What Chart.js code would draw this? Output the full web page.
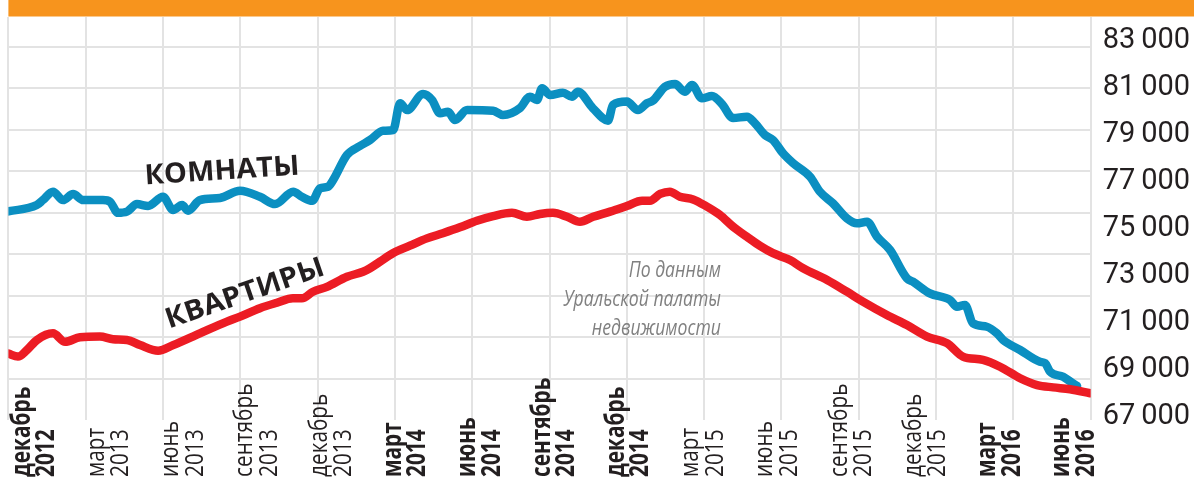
<!DOCTYPE html>
<html lang="ru">
<head>
<meta charset="utf-8">
<title>Комнаты и квартиры</title>
<script src="https://cdn.jsdelivr.net/npm/chart.js@4.4.1/dist/chart.umd.min.js"></script>
<style>
  html, body { margin: 0; padding: 0; background: #fff; }
  #wrap { position: relative; width: 1194px; height: 484px; }
</style>
</head>
<body>
<div id="wrap"><canvas id="priceChart"></canvas></div>
<script>
// Месяцы от декабря 2012 (0) до июня 2016 (42), цены в рублях за м²
const roomsMonths = [0, 1.10, 1.34, 1.73, 2.12, 2.51, 2.90, 3.67, 3.94, 4.25, 4.60, 4.99, 5.42, 6.00, 6.39, 6.74, 6.97, 7.43, 8.21, 8.99,
  9.76, 10.35, 11.05, 11.39, 11.79, 12.09, 12.40, 12.60, 13.14, 13.64, 14.04, 14.54, 14.93, 15.20, 15.47, 16.09, 16.44, 16.75, 17.06, 17.33,
  17.80, 18.81, 19.19, 19.85, 20.24, 20.51, 20.71, 21.02, 21.52, 21.87, 22.10, 22.68, 23.27, 23.46, 24.00, 24.43, 24.78, 25.01, 25.48, 25.87,
  26.25, 26.53, 26.91, 27.30, 27.69, 28.12, 28.66, 28.97, 29.36, 29.67, 30.06, 30.45, 31.11, 31.49, 32.00, 32.54, 32.93, 33.32, 33.71, 34.21,
  34.87, 35.10, 35.76, 36.54, 36.81, 37.12, 37.43, 37.97, 38.36, 38.60, 39.26, 40.03, 40.23, 40.42, 40.93, 41.31, 41.47];
const roomsPrices = [75750, 76020, 76230, 76590, 76230, 76490, 76230, 76230, 76160, 75690, 75740, 76060, 75980, 76370, 75810, 76020, 75780, 76230, 76320, 76630,
  76370, 76060, 76590, 76370, 76200, 76730, 76800, 77080, 78150, 78530, 78790, 79180, 79210, 80350, 80060, 80740, 80490, 79920, 79990, 79640,
  80060, 80030, 79850, 80140, 80630, 80490, 80990, 80700, 80800, 80630, 80840, 80140, 79610, 80280, 80420, 80060, 80350, 80460, 81050, 81170,
  80840, 81130, 80560, 80660, 80320, 79720, 79780, 79500, 79000, 78790, 78220, 77800, 77220, 76590, 76090, 75450, 75240, 75310, 74670, 74110,
  72900, 72760, 72260, 71980, 71690, 71770, 70990, 70840, 70560, 70280, 69850, 69350, 69290, 68930, 68710, 68430, 68320];

const flatsMonths = [0, 0.37, 0.72, 1.11, 1.73, 2.20, 2.78, 3.55, 4.06, 4.60, 5.11, 5.81, 6.39, 7.43, 8.48, 8.99, 9.76, 10.42, 11.04, 11.39,
  11.82, 12.36, 13.14, 13.76, 14.03, 14.42, 14.92, 15.58, 16.24, 16.86, 17.52, 18.18, 18.81, 19.54, 20.12, 20.63, 21.13, 21.68, 22.18, 22.69,
  23.35, 24.00, 24.59, 24.90, 25.29, 25.67, 26.06, 26.57, 27.11, 27.61, 28.12, 28.66, 29.17, 29.67, 30.33, 30.84, 31.77, 32.54, 33.16, 34.09,
  34.87, 35.65, 36.42, 37.04, 37.82, 38.48, 39.26, 39.92, 40.54, 41.20, 41.98];
const flatsPrices = [69700, 69570, 69850, 70280, 70560, 70200, 70390, 70420, 70310, 70280, 70060, 69820, 70060, 70560, 71060, 71270, 71630, 71860, 72050, 72050,
  72330, 72540, 72970, 73180, 73330, 73610, 73970, 74290, 74600, 74820, 75070, 75350, 75550, 75690, 75520, 75640, 75690, 75520, 75310, 75520,
  75740, 75980, 76200, 76200, 76490, 76590, 76370, 76260, 75950, 75600, 75100, 74670, 74280, 73970, 73680, 73330, 72830, 72330, 71910, 71340,
  70910, 70420, 70140, 69570, 69430, 69140, 68650, 68360, 68260, 68180, 68010];

const yTicks = [67000, 69000, 71000, 73000, 75000, 77000, 79000, 81000, 83000];
const tickMonths = ['декабрь', 'март', 'июнь', 'сентябрь', 'декабрь', 'март', 'июнь', 'сентябрь',
  'декабрь', 'март', 'июнь', 'сентябрь', 'декабрь', 'март', 'июнь'];
const tickYears = ['2012', '2013', '2013', '2013', '2013', '2014', '2014', '2014',
  '2014', '2015', '2015', '2015', '2015', '2016', '2016'];
const tickBold = [true, false, false, false, false, true, true, true,
  true, false, false, false, false, true, true];
const sourceLines = ['По данным', 'Уральской палаты', 'недвижимости'];

const INK = '#231f20';

// оранжевая плашка заголовка над сеткой
const headerBand = {
  id: 'headerBand',
  beforeDraw(chart) {
    const { ctx, chartArea } = chart;
    ctx.save();
    ctx.fillStyle = '#f7941d';
    ctx.fillRect(chartArea.left, 0, chart.width - chartArea.left, chartArea.top - 0.5);
    ctx.restore();
  }
};

// подписи дат, повёрнутые на 90°, выровнены по нижнему краю
const dateLabels = {
  id: 'dateLabels',
  afterDraw(chart) {
    const { ctx } = chart;
    const scale = chart.scales.xLab;
    ctx.save();
    ctx.fillStyle = INK;
    ctx.textAlign = 'left';
    ctx.textBaseline = 'alphabetic';
    tickMonths.forEach((month, i) => {
      const cx = scale.getPixelForValue(i);
      ctx.save();
      ctx.translate(cx, chart.height - 7);
      ctx.rotate(-Math.PI / 2);
      ctx.scale(0.8, 1);
      ctx.font = (tickBold[i] ? '700' : '400') + ' 26px "Open Sans"';
      ctx.fillText(month, 0, -2);
      ctx.fillText(tickYears[i], 0, 22.5);
      ctx.restore();
    });
    ctx.restore();
  }
};

// подписи серий и источник
const seriesNotes = {
  id: 'seriesNotes',
  afterDatasetsDraw(chart) {
    const { ctx } = chart;
    const x = chart.scales.x;
    const y = chart.scales.y;

    const drawTilted = (text, mx, vy, deg, width) => {
      ctx.save();
      ctx.translate(x.getPixelForValue(mx), y.getPixelForValue(vy));
      ctx.rotate(deg * Math.PI / 180);
      ctx.font = '700 28px "Open Sans"';
      const w = ctx.measureText(text).width;
      ctx.scale(width / w, 1);
      ctx.fillStyle = INK;
      ctx.textAlign = 'center';
      ctx.textBaseline = 'middle';
      ctx.fillText(text, 0, 0);
      ctx.restore();
    };
    drawTilted('КОМНАТЫ', 8.29, 77446, -3.7, 155);
    drawTilted('КВАРТИРЫ', 9.18, 72234, -19, 166);

    ctx.save();
    ctx.translate(x.getPixelForValue(27.65), y.getPixelForValue(72957));
    ctx.scale(0.8, 1);
    ctx.font = 'italic 400 22px "Open Sans"';
    ctx.fillStyle = '#808080';
    ctx.textAlign = 'right';
    ctx.textBaseline = 'alphabetic';
    sourceLines.forEach((line, k) => ctx.fillText(line, 0, k * 29));
    ctx.restore();
  }
};

const gridColor = '#e3e3e3';

// фиксированные размеры осей, без запаса под половинки подписей
const fixSize = (w, h) => (s) => {
  if (w !== null) s.width = w;
  if (h !== null) s.height = h;
  s.paddingTop = 0;
  s.paddingBottom = 0;
  s.paddingLeft = 0;
  s.paddingRight = 0;
};

new Chart(document.getElementById('priceChart'), {
  type: 'line',
  data: {
    datasets: [
      {
        label: 'Квартиры',
        data: flatsMonths.map((m, i) => ({ x: m, y: flatsPrices[i] })),
        borderColor: '#ec1c24',
        xAxisID: 'x',
        yAxisID: 'y'
      },
      {
        label: 'Комнаты',
        data: roomsMonths.map((m, i) => ({ x: m, y: roomsPrices[i] })),
        borderColor: '#0b8fc1',
        xAxisID: 'x',
        yAxisID: 'y'
      }
    ]
  },
  options: {
    responsive: true,
    maintainAspectRatio: false,
    animation: false,
    layout: { padding: { top: 17, left: 0, right: 0, bottom: 0 } },
    elements: {
      line: {
        borderWidth: 8.5,
        cubicInterpolationMode: 'monotone',
        borderCapStyle: 'round',
        borderJoinStyle: 'round'
      },
      point: { radius: 0 }
    },
    plugins: {
      legend: { display: false },
      tooltip: { enabled: false }
    },
    scales: {
      x: {
        type: 'linear',
        min: 0,
        max: 42,
        ticks: { display: false, stepSize: 3 },
        grid: { color: gridColor, lineWidth: 2, drawTicks: false },
        border: { display: false },
        afterFit: fixSize(null, 64)
      },
      xLab: {
        type: 'linear',
        display: false,
        min: -0.3124,
        max: 14.2586
      },
      yGrid: {
        type: 'linear',
        position: 'left',
        min: -0.995,
        max: 8.716,
        afterBuildTicks: (s) => { s.ticks = yTicks.map((v, k) => ({ value: k })); },
        ticks: { display: false },
        grid: { color: gridColor, lineWidth: 2, drawTicks: false },
        border: { display: false },
        afterFit: fixSize(8.4, null)
      },
      y: {
        type: 'linear',
        position: 'right',
        min: 66872,
        max: 84021,
        afterBuildTicks: (s) => { s.ticks = yTicks.map(v => ({ value: v })); },
        ticks: {
          color: INK,
          padding: 12,
          font: { family: 'Roboto', size: 29 },
          callback: (v) => Math.round(v / 1000) + '\u2009000'
        },
        grid: { display: false, drawTicks: false },
        border: { display: false },
        afterFit: fixSize(103.3, null)
      }
    }
  },
  plugins: [headerBand, dateLabels, seriesNotes]
});
</script>
</body>
</html>
